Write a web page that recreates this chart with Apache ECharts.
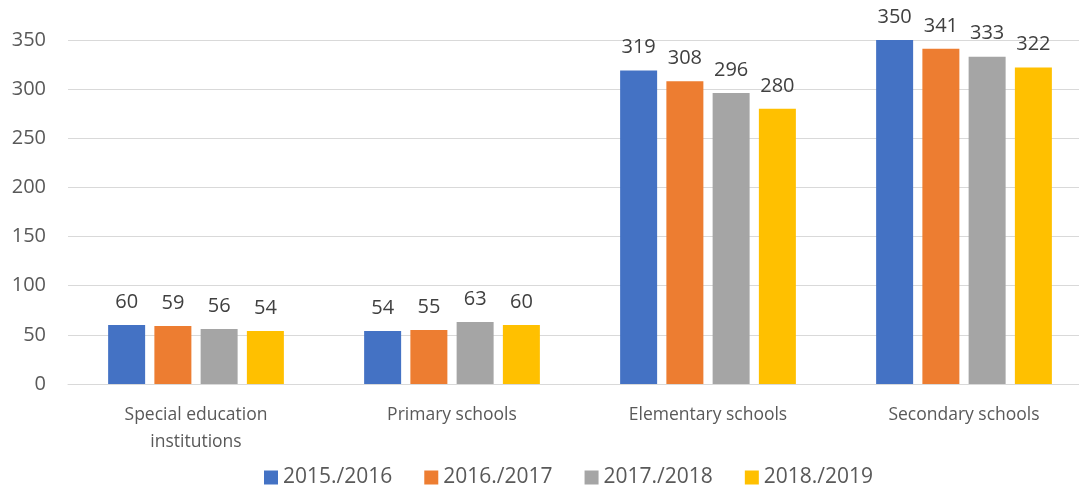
<!DOCTYPE html>
<html>
<head>
<meta charset="utf-8">
<script src="https://cdn.jsdelivr.net/npm/echarts@6/dist/echarts.min.js"></script>
<style>
  html, body { margin: 0; padding: 0; background: #fff; }
  #chartContainer { width: 1079px; height: 488px; }
</style>
</head>
<body>
<div id="chartContainer"></div>
<script>
// Categories and yearly values
const categories = ['Special education\ninstitutions', 'Primary schools', 'Elementary schools', 'Secondary schools'];
const years = ['2015./2016', '2016./2017', '2017./2018', '2018./2019'];
const values2015 = [60, 54, 319, 350];
const values2016 = [59, 55, 308, 341];
const values2017 = [56, 63, 296, 333];
const values2018 = [54, 60, 280, 322];
const colors = ['#4472C4', '#ED7D31', '#A5A5A5', '#FFC000'];

const seriesValues = [values2015, values2016, values2017, values2018];
const font = '"Open Sans", "Noto Sans", sans-serif';

const myChart = echarts.init(document.getElementById('chartContainer'));

const option = {
    animation: false,
    textStyle: { fontFamily: font },
    grid: { left: 68, width: 1024, top: 40, height: 344, outerBoundsMode: 'none', containLabel: false },
    legend: {
        top: 462,
        left: 259,
        itemWidth: 14,
        itemHeight: 14,
        itemGap: 32,
        icon: 'rect',
        textStyle: { fontSize: 21, color: '#595959', fontFamily: font }
    },
    xAxis: {
        type: 'category',
        data: categories,
        axisLine: { lineStyle: { color: '#D9D9D9' } },
        axisTick: { show: false },
        axisLabel: { fontSize: 17.5, color: '#595959', margin: 18, lineHeight: 27, fontFamily: font }
    },
    yAxis: {
        type: 'value',
        min: 0,
        max: 350,
        interval: 50,
        axisLabel: { fontSize: 20, color: '#595959', margin: 22, fontFamily: font },
        splitLine: { lineStyle: { color: '#D9D9D9' } }
    },
    series: years.map((year, i) => ({
        name: year,
        type: 'bar',
        data: seriesValues[i],
        barWidth: 37,
        barGap: '25%',
        itemStyle: { color: colors[i] },
        label: {
            show: true,
            position: 'top',
            distance: 13,
            fontSize: 20,
            color: '#404040',
            fontFamily: font
        }
    }))
};

myChart.setOption(option);
</script>
</body>
</html>
